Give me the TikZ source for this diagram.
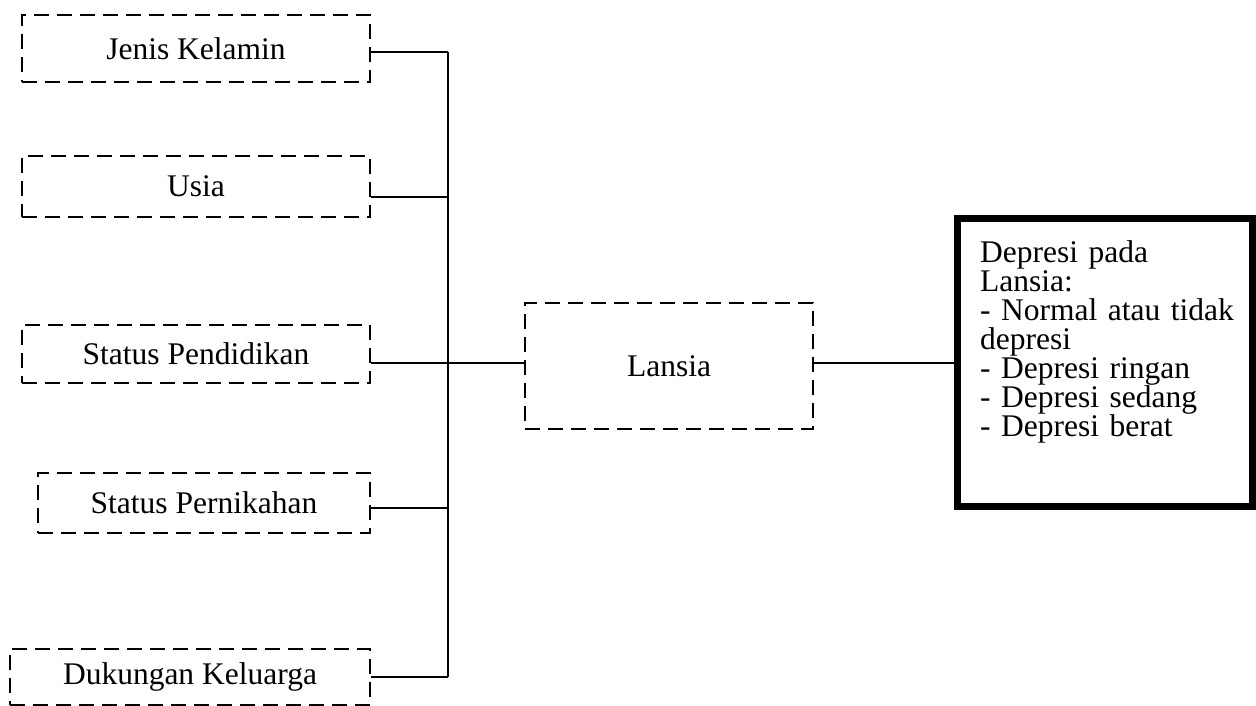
\documentclass[tikz,border=0pt]{standalone}
\usepackage{fontspec}
\setmainfont{Liberation Serif}
\usetikzlibrary{calc}
\begin{document}
\begin{tikzpicture}[x=1pt,y=-1pt,
  every node/.style={font=\fontsize{31.5}{29}\selectfont, inner sep=0pt},
  factor/.style={draw, line width=2.6pt, dash pattern=on 15pt off 8pt, rectangle},
  outcomebox/.style={draw, line width=7pt, rectangle},
  link/.style={line width=1.6pt}]
\useasboundingbox (0,0) rectangle (1256,706);

% independent variables
\node[factor, minimum width=348pt, minimum height=67pt] (b1) at (196,48.5) {Jenis Kelamin};
\node[factor, minimum width=348pt, minimum height=61pt] (b2) at (196,186.5) {Usia};
\node[factor, minimum width=348pt, minimum height=58pt] (b3) at (196,354) {Status Pendidikan};
\node[factor, minimum width=332pt, minimum height=60pt] (b4) at (204,503) {Status Pernikahan};
\node[factor, minimum width=360pt, minimum height=56pt] (b5) at (190,677) {Dukungan Keluarga};

% central and outcome boxes
\node[factor, minimum width=288pt, minimum height=126pt] (lansia) at (669,366) {Lansia};
\node[outcomebox, minimum width=295pt, minimum height=288pt] (outcome) at (1105,362.5) {};
\node[anchor=north west, text width=265pt, align=left] (outtext) at (980,240)
  {Depresi pada\\Lansia:\\- Normal atau tidak\\depresi\\- Depresi ringan\\- Depresi sedang\\- Depresi berat};

% trunk junctions
\coordinate (t1) at (448,52);
\coordinate (t2) at (448,197);
\coordinate (t3) at (448,363);
\coordinate (t4) at (448,508);
\coordinate (t5) at (448,677);

\draw[link] (b1.east |- t1) -- (t1);
\draw[link] (b2.east |- t2) -- (t2);
\draw[link] (b3.east |- t3) -- (t3);
\draw[link] (b4.east |- t4) -- (t4);
\draw[link] (b5.east |- t5) -- (t5);
\draw[link] (t1) -- (t5);
\draw[link] (t3) -- (lansia.west |- t3);
\draw[link] (lansia.east |- t3) -- (outcome.west |- t3);
\end{tikzpicture}
\end{document}
